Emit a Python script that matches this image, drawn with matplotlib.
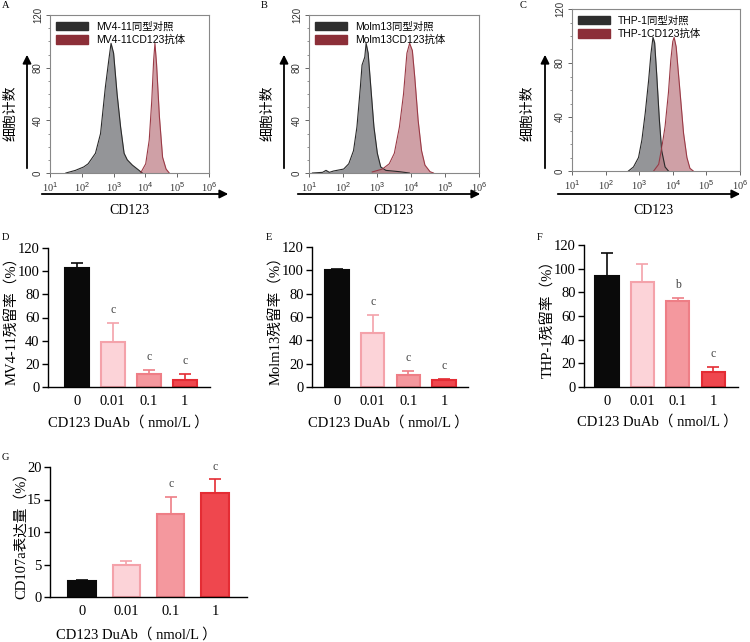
import numpy as np
import matplotlib
matplotlib.use('Agg')
import matplotlib.pyplot as plt
from matplotlib.patches import Patch
from matplotlib.ticker import FixedLocator, NullFormatter

plt.rcParams['font.family'] = ['Liberation Serif', 'Noto Sans CJK SC', 'DejaVu Sans']
plt.rcParams['mathtext.fontset'] = 'custom'
plt.rcParams['mathtext.rm'] = 'Liberation Sans'
plt.rcParams['mathtext.it'] = 'Liberation Sans'

W, H = 750, 642
SANS = ['Liberation Sans', 'Noto Sans CJK SC']
CJK = ['Noto Sans CJK SC', 'DejaVu Sans']

# ---- flow cytometry histograms: (log10 CD123, count) ----
hist_a_iso_log = [1.5, 1.8, 2.06, 2.2, 2.43, 2.59, 2.74, 2.85, 2.92, 3.0, 3.11, 3.22, 3.33, 3.43, 3.59, 3.8, 3.9]
hist_a_iso_cnt = [0, 2, 4.6, 7, 15, 30, 65, 86, 98.5, 91, 60, 35, 15, 10, 6, 2, 0]
hist_a_ab_log = [3.85, 4.01, 4.12, 4.2, 4.26, 4.3, 4.35, 4.44, 4.54, 4.65, 4.75]
hist_a_ab_cnt = [0, 7, 25, 55, 86, 98.5, 83, 43, 12, 3, 0]

hist_b_iso_log = [1.1, 1.4, 1.5, 1.6, 1.72, 2.02, 2.17, 2.31, 2.41, 2.51, 2.56, 2.64, 2.68, 2.74, 2.81, 2.91, 3.01, 3.11, 3.26, 3.66, 3.95]
hist_b_iso_cnt = [0, 0.5, 2, 0.5, 1.5, 3, 7, 17, 35, 65, 82, 88, 98.5, 91, 68, 35, 15, 4.6, 2, 1, 0]
hist_b_ab_log = [2.86, 3.16, 3.36, 3.51, 3.66, 3.78, 3.88, 3.96, 4.04, 4.11, 4.21, 4.31, 4.41, 4.56, 4.66]
hist_b_ab_cnt = [0.8, 3, 7, 15, 35, 60, 91, 98.5, 93, 73, 40, 17, 6, 1, 0]

hist_c_iso_log = [2.68, 2.83, 2.98, 3.08, 3.18, 3.28, 3.35, 3.41, 3.46, 3.52, 3.6, 3.67, 3.77, 3.87]
hist_c_iso_cnt = [0, 3, 10, 23, 43, 67, 87, 99, 95, 72, 38, 15, 3, 0]
hist_c_ab_log = [3.43, 3.58, 3.67, 3.77, 3.87, 3.94, 4.0, 4.04, 4.1, 4.2, 4.32, 4.42, 4.51, 4.61]
hist_c_ab_cnt = [0, 5, 17, 33, 58, 82, 96, 99, 92, 63, 28, 10, 2, 0]

legend_a = ['MV4-11同型对照', 'MV4-11CD123抗体']
legend_b = ['Molm13同型对照', 'Molm13CD123抗体']
legend_c = ['THP-1同型对照', 'THP-1CD123抗体']

# ---- bar charts ----
doses = ['0', '0.01', '0.1', '1']
mv411_mean = [103, 39, 11, 6]
mv411_err = [4, 16, 4, 5]
mv411_sig = ['', 'c', 'c', 'c']
molm13_mean = [100, 46, 10.5, 6]
molm13_err = [1.5, 16, 3.5, 0.6]
molm13_sig = ['', 'c', 'c', 'c']
thp1_mean = [94, 89, 73, 13]
thp1_err = [19, 15, 2, 4]
thp1_sig = ['', '', 'b', 'c']
cd107a_mean = [2.5, 5.0, 12.7, 16.0]
cd107a_err = [0.1, 0.6, 2.7, 2.1]
cd107a_sig = ['', '', 'c', 'c']

bar_fill = ['#0a0a0a', '#fcd3d8', '#f4989e', '#ef474e']
bar_edge = ['#0a0a0a', '#f4a2aa', '#ee7e86', '#e42c34']


def box(l, t, r, b):
    return [l / W, 1 - b / H, (r - l) / W, (b - t) / H]


def arrow(fig, x0, y0, x1, y1):
    fig.add_artist(matplotlib.patches.FancyArrowPatch(
        (x0 / W, 1 - y0 / H), (x1 / W, 1 - y1 / H), transform=fig.transFigure,
        arrowstyle='-|>,head_length=5,head_width=2.5', color='black', lw=1.3))


def hist_panel(fig, rect, iso, ab, labels, letter, lpos, yarrow_x, ylab_x, xarrow, xlab):
    ax = fig.add_axes(box(*rect))
    ax.fill_between(10 ** np.array(iso[0]), iso[1], color='#8e8f93', alpha=0.95, lw=0)
    ax.plot(10 ** np.array(iso[0]), iso[1], color='#2a2a2a', lw=0.8)
    ax.fill_between(10 ** np.array(ab[0]), ab[1], color='#bd7c84', alpha=0.72, lw=0)
    ax.plot(10 ** np.array(ab[0]), ab[1], color='#9a3a46', lw=0.8)
    ax.set_xscale('log')
    ax.set_xlim(10, 1e6)
    ax.set_ylim(0, 120)
    ax.set_yticks([0, 40, 80, 120])
    ax.yaxis.set_minor_locator(FixedLocator(np.arange(0, 121, 10)))
    ax.set_xticks([10 ** k for k in range(1, 7)])
    ax.set_xticklabels(['10$^{%d}$' % k for k in range(1, 7)], fontsize=7.5, color='#333333')
    ax.xaxis.set_minor_formatter(NullFormatter())
    for lab in ax.get_yticklabels():
        lab.set_rotation(90)
        lab.set_va('center')
        lab.set_fontsize(7)
        lab.set_color('#333333')
        lab.set_family(SANS)
    for s in ax.spines.values():
        s.set_color('#888888')
        s.set_linewidth(0.8)
    ax.tick_params(colors='#666666', length=3, width=0.7, labelcolor='#333333', pad=2)
    ax.tick_params(which='minor', colors='#666666', length=1.5, width=0.5)
    handles = [Patch(facecolor='#2e2e2e', edgecolor='#2e2e2e'),
               Patch(facecolor='#8c2f38', edgecolor='#8c2f38')]
    ax.legend(handles, labels, loc='upper left', frameon=False, handlelength=3.0,
              handleheight=0.9, borderaxespad=0.2, labelspacing=0.3,
              prop={'family': SANS, 'size': 7.5}, bbox_to_anchor=(0.0, 1.0))
    fig.text(lpos[0] / W, 1 - lpos[1] / H, letter, fontsize=7.5, ha='left', va='center')
    arrow(fig, yarrow_x, 171, yarrow_x, 52)
    fig.text(ylab_x / W, 1 - 113 / H, '细胞计数', rotation=90, fontsize=10,
             ha='center', va='center', family=CJK)
    arrow(fig, xarrow[0], 194, xarrow[1], 194)
    fig.text(xlab / W, 1 - 211 / H, 'CD123', fontsize=10, ha='center', va='center')
    return ax


def bar_panel(fig, rect, mean, err, sig, ymax, ystep, ylabel, letter, lpos, xlab_pos,
              xlim, width=0.66):
    ax = fig.add_axes(box(*rect))
    x = np.arange(len(doses))
    ax.bar(x, mean, width=width, color=bar_fill, edgecolor=bar_edge, linewidth=1.5, zorder=2)
    for i in range(len(doses)):
        ax.errorbar(x[i], mean[i], yerr=[[0], [err[i]]], fmt='none',
                    ecolor=bar_edge[i] if i else '#0a0a0a', elinewidth=1.2,
                    capsize=4, capthick=1.2, zorder=1)
        if sig[i]:
            ax.text(x[i], mean[i] + err[i] + ymax * 0.05, sig[i], ha='center',
                    va='bottom', fontsize=8.5, color='#444444')
    ax.set_xlim(*xlim)
    ax.set_ylim(0, ymax)
    ax.set_yticks(np.arange(0, ymax + 0.1, ystep))
    ax.set_xticks(x)
    ax.set_xticklabels(doses)
    ax.spines['top'].set_visible(False)
    ax.spines['right'].set_visible(False)
    for s in ['left', 'bottom']:
        ax.spines[s].set_linewidth(1.0)
    ax.tick_params(axis='y', length=4, width=1.0, labelsize=10.5, pad=2)
    ax.tick_params(axis='x', length=0, labelsize=10.5, pad=6)
    ax.set_ylabel(ylabel, fontsize=10.5, labelpad=-1)
    fig.text(lpos[0] / W, 1 - lpos[1] / H, letter, fontsize=7.5, ha='left', va='center')
    fig.text(xlab_pos[0] / W, 1 - xlab_pos[1] / H, 'CD123 DuAb（ nmol/L ）', fontsize=10.5,
             ha='center', va='center')
    return ax


fig = plt.figure(figsize=(7.5, 6.42), dpi=100)

hist_panel(fig, (50, 15, 209, 173), (hist_a_iso_log, hist_a_iso_cnt), (hist_a_ab_log, hist_a_ab_cnt),
           legend_a, 'A', (2, 5), 27, 11, (39, 231), 129)
hist_panel(fig, (309, 15, 479, 173), (hist_b_iso_log, hist_b_iso_cnt), (hist_b_ab_log, hist_b_ab_cnt),
           legend_b, 'B', (261, 5), 284, 268, (295, 483), 393)
hist_panel(fig, (572, 9, 740, 171), (hist_c_iso_log, hist_c_iso_cnt), (hist_c_ab_log, hist_c_ab_cnt),
           legend_c, 'C', (520, 5), 545, 528, (555, 743), 653)

bar_panel(fig, (48, 248, 210, 387), mv411_mean, mv411_err, mv411_sig, 120, 20,
          'MV4-11残留率（%）', 'D', (2, 238), (128, 423), (-0.8, 3.7))
bar_panel(fig, (312, 247, 468, 387), molm13_mean, molm13_err, molm13_sig, 120, 20,
          'Molm13残留率（%）', 'E', (266, 238), (388, 423), (-0.7, 3.67))
bar_panel(fig, (584, 245, 738, 387), thp1_mean, thp1_err, thp1_sig, 120, 20,
          'THP-1残留率（%）', 'F', (537, 238), (657, 422), (-0.65, 3.7))
bar_panel(fig, (50, 467, 247, 597), cd107a_mean, cd107a_err, cd107a_sig, 20, 5,
          'CD107a表达量（%）', 'G', (2, 457), (136, 635), (-0.72, 3.72), width=0.62)

fig.savefig('out.png', dpi=100)
